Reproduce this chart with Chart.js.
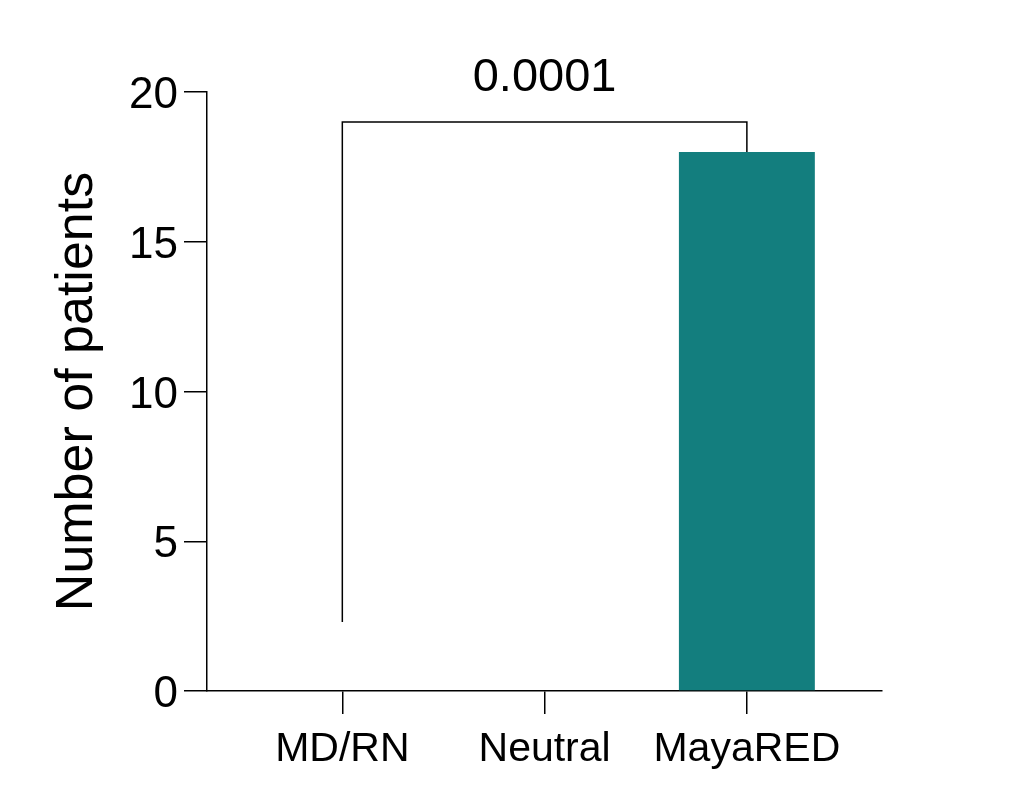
<!DOCTYPE html>
<html>
<head>
<meta charset="utf-8">
<script src="https://cdn.jsdelivr.net/npm/chart.js@4.4.0/dist/chart.umd.min.js"></script>
<style>
    html, body { margin: 0; padding: 0; background: #fff; }
    #wrap { width: 1013px; height: 802px; }
</style>
</head>
<body>
<div id="wrap"><canvas id="myChart" width="1013" height="802"></canvas></div>
<script>
'use strict';

// data
var groupLabels = ['MD/RN', 'Neutral', 'MayaRED'];
var patientCounts = [0, 0, 18];
var yTickValues = [0, 5, 10, 15, 20];
var bracketPoints = [[0, 2.3], [0, 19], [2, 19], [2, 18]];
var pValueLabel = '0.0001';

var fontFamily = "'Liberation Sans', Arial, Helvetica, sans-serif";

var pValuePlugin = {
    id: 'pValue',
    afterDatasetsDraw(chart) {
        let ctx = chart.ctx;
        let x = chart.scales.x.getPixelForValue((bracketPoints[1][0] + bracketPoints[2][0]) / 2);
        let y = chart.scales.y.getPixelForValue(bracketPoints[1][1]);

        ctx.save();
        ctx.font = '47px ' + fontFamily;
        ctx.fillStyle = '#000';
        ctx.textAlign = 'center';
        ctx.textBaseline = 'alphabetic';
        ctx.fillText(pValueLabel, x, y - 31);
        ctx.restore();
    }
};

let chartConfig = {
    type: 'bar',
    data: {
        datasets: [
            {
                type: 'bar',
                label: 'Number of patients',
                data: groupLabels.map((label, i) => ({ x: i, y: patientCounts[i] })),
                backgroundColor: '#137e7e',
                borderWidth: 0,
                barPercentage: 1,
                categoryPercentage: 0.672
            },
            {
                type: 'line',
                label: 'p',
                data: bracketPoints.map(p => ({ x: p[0], y: p[1] })),
                borderColor: '#000',
                borderWidth: 1.5,
                pointRadius: 0,
                fill: false,
                tension: 0
            }
        ]
    },
    options: {
        responsive: false,
        animation: false,
        devicePixelRatio: 1,
        layout: {
            padding: { top: 92, right: 131, left: 0, bottom: 0 }
        },
        plugins: {
            legend: { display: false },
            tooltip: { enabled: false },
            title: { display: false }
        },
        scales: {
            x: {
                type: 'linear',
                offset: false,
                min: -0.669,
                max: 2.668,
                afterBuildTicks(scale) {
                    scale.ticks = groupLabels.map((label, i) => ({ value: i }));
                },
                afterFit(scale) {
                    scale.height = 111;
                },
                ticks: {
                    autoSkip: false,
                    maxRotation: 0,
                    padding: 11,
                    color: '#000',
                    font: { family: fontFamily, size: 41 },
                    callback: (value) => groupLabels[value]
                },
                grid: {
                    offset: false,
                    drawOnChartArea: false,
                    drawTicks: true,
                    tickLength: 23,
                    color: '#000',
                    lineWidth: 1.5
                },
                border: { display: true, color: '#000', width: 1.5 }
            },
            y: {
                type: 'linear',
                min: 0,
                max: 20,
                afterBuildTicks(scale) {
                    scale.ticks = yTickValues.map(v => ({ value: v }));
                },
                afterFit(scale) {
                    scale.width = 207;
                },
                ticks: {
                    padding: 6,
                    labelOffset: 4,
                    color: '#000',
                    font: { family: fontFamily, size: 44 }
                },
                grid: {
                    drawOnChartArea: false,
                    drawTicks: true,
                    tickLength: 23,
                    color: '#000',
                    lineWidth: 1.5
                },
                border: { display: true, color: '#000', width: 1.5 },
                title: {
                    display: true,
                    text: 'Number of patients',
                    color: '#000',
                    font: { family: fontFamily, size: 52, lineHeight: 1 },
                    padding: { top: 52, bottom: 0 }
                }
            }
        }
    },
    plugins: [pValuePlugin]
};

new Chart(document.getElementById('myChart'), chartConfig);
</script>
</body>
</html>
